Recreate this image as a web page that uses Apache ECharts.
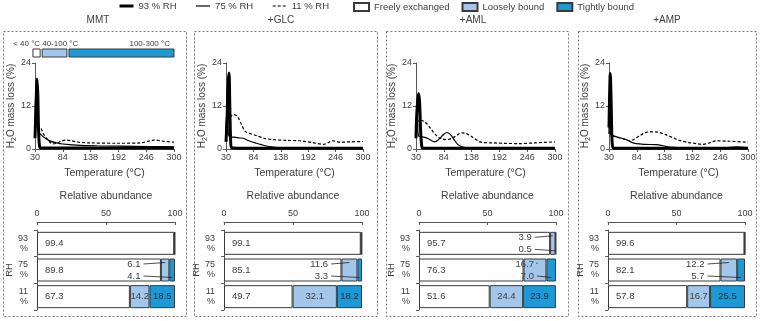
<!DOCTYPE html>
<html>
<head>
<meta charset="utf-8">
<script src="https://cdn.jsdelivr.net/npm/echarts@6/dist/echarts.min.js"></script>
<style>html,body{margin:0;padding:0;background:#fff}#c{width:760px;height:321px}</style>
</head>
<body>
<div id="c"></div>
<script>
// water loss curves, [temperature °C, H2O mass loss %]
var mmt93 = [[30,3],[32,12],[34,19.5],[35.5,15],[37,5],[39,0.6],[42,0.3],[100,0.3],[200,0.3],[300,0.3]];
var mmt75 = [[30,4],[31,16],[32.5,10],[35,5.5],[40,4.2],[50,3],[60,2.2],[72,1.7],[84,1.4],[110,1.1],[150,0.9],[200,0.8],[250,0.7],[300,0.6]];
var mmt11 = [[34,5.5],[40,6],[46,4.3],[55,2.6],[64,1.4],[72,1.6],[80,2.1],[90,2.5],[100,2.3],[115,1.9],[138,1.7],[192,1.6],[235,1.7],[250,2.2],[262,2.5],[278,2.2],[300,1.9]];

var glc93 = [[30,2],[32,8],[34,18],[36,21.2],[37.5,12],[39,3],[41,0.4],[60,0.2],[300,0.2]];
var glc75 = [[30,5],[32,12],[34,6],[36,3.6],[45,3.3],[55,3.1],[64,3],[75,2.3],[90,1.6],[100,1.2],[115,0.7],[137,0.3],[160,0.2],[300,0.2]];
var glc11 = [[30,4],[31.5,8.7],[38,9],[45,9.6],[52,9.2],[60,7],[68,4.9],[80,4.2],[91,3.7],[105,3],[124,2.6],[150,2.4],[176,2.3],[200,1.8],[222,1.3],[232,1.8],[240,2.3],[256,1.9],[275,2],[300,2.1]];

var aml93 = [[30,3],[31,8],[33,13],[35,15.5],[37,13],[39,5],[41,1],[43,0.3],[300,0.2]];
var aml75 = [[30,3],[31.5,13],[33,8],[35,3.6],[45,3.3],[55,2.8],[66,2],[75,2.8],[83,4],[90,4.6],[97,4],[104,2.6],[111,1.3],[120,0.6],[130,0.3],[300,0.2]];
var aml11 = [[33,6],[35,8.1],[46,7.7],[56,6.2],[65,4.5],[74,3.2],[82,2.8],[90,2.6],[100,3],[110,3.9],[119,4.5],[128,4.3],[140,3.3],[156,1.9],[180,1.7],[200,1.6],[230,1.5],[260,1.7],[300,2]];

var amp93 = [[30,6],[31,14],[32.5,21.1],[34,14],[35.5,4],[37,0.6],[40,0.2],[300,0.2]];
var amp75 = [[30,4.2],[30.8,16],[32,9],[34,4],[45,3.4],[60,2.8],[72,2],[83,1.5],[100,1.3],[122,1.2],[135,0.9],[148,0.5],[180,0.3],[250,0.3],[277,0.6],[300,0.4]];
var amp11 = [[30,4.6],[35,4],[45,3.3],[58,2.8],[70,2.3],[80,2.8],[90,3.8],[100,4.5],[109,4.8],[120,4.8],[128,4.6],[140,4],[155,3.1],[167,2.4],[185,1.8],[200,1.5],[212,1.3],[225,1.7],[238,2.3],[260,2.2],[300,1.9]];

var panels = ['MMT', '+GLC', '+AML', '+AMP'];
var curves93 = [mmt93, glc93, aml93, amp93];
var curves75 = [mmt75, glc75, aml75, amp75];
var curves11 = [mmt11, glc11, aml11, amp11];
var rhNames = ['93 % RH', '75 % RH', '11 % RH'];

// relative abundance, rows: 93 %, 75 %, 11 % RH
var rhCats = ['93\n%', '75\n%', '11\n%'];
var freeVals  = [[99.4, 89.8, 67.3], [99.1, 85.1, 49.7], [95.7, 76.3, 51.6], [99.6, 82.1, 57.8]];
var looseVals = [[0.3, 6.1, 14.2],   [0.5, 11.6, 32.1],  [3.9, 16.7, 24.4],  [0.2, 12.2, 16.7]];
var tightVals = [[0.3, 4.1, 18.5],   [0.4, 3.3, 18.2],   [0.5, 7.0, 23.9],   [0.2, 5.7, 25.5]];
var inBarRows = [false, false, true];

// callouts: [text end (%), row, pointed segment (%), -1 upper / 1 lower]
var calloutPts = [
  [[75, 1, 92.9, -1], [75, 1, 98, 1]],
  [[75.4, 1, 90.9, -1], [75.4, 1, 98.3, 1]],
  [[82.3, 0, 97.6, -1], [82.3, 0, 99.8, 1], [84, 1, 86, -1], [84, 1, 96.5, 1]],
  [[70.4, 1, 88.2, -1], [70.4, 1, 97.1, 1]]
];
var calloutText = [['6.1', '4.1'], ['11.6', '3.3'], ['3.9', '0.5', '16.7', '7.0'], ['12.2', '5.7']];

// temperature ranges key (MMT panel)
var rangeBands = [[26, 40], [44, 92], [96, 300]];
var rangeNames = ['< 40 °C', '40-100 °C', '100-300 °C'];

var FONT = '"Liberation Sans", Arial, sans-serif';
var INK = '#404040';
var AX = '#595959';
var EDGE = '#3a3a3a';
var C_FREE = '#ffffff', C_LOOSE = '#a3c7ea', C_TIGHT = '#1d9ad6';

var lineLeft = [35, 226, 416, 609], lineW = [139, 137, 139, 139];
var barLeft = [37, 224, 419, 608], barW = [138, 138, 137, 137];
var boxes = [[3, 186], [194, 377], [386, 568], [578, 756]];
var titleX = [98, 281, 473, 667];

var lineStyles = [
  { color: '#000', width: 3 },
  { color: '#000', width: 1.2 },
  { color: '#000', width: 1.2, type: [3, 2] }
];

var opt = {
  animation: false,
  textStyle: { fontFamily: FONT },
  grid: [], xAxis: [], yAxis: [], series: [],
  legend: [{
    data: rhNames.map(function (n, k) { return { name: n, lineStyle: lineStyles[k] }; }),
    left: 118, top: 1, padding: 0, itemWidth: 14, itemHeight: 10, itemGap: 19,
    itemStyle: { opacity: 0 },
    textStyle: { fontSize: 9.5, color: INK, fontFamily: FONT }
  }, {
    data: ['Freely exchanged', 'Loosely bound', 'Tightly bound'], left: 353, top: 2, padding: 0,
    icon: 'rect', itemWidth: 15, itemHeight: 8, itemGap: 12,
    textStyle: { fontSize: 9.5, color: INK, fontFamily: FONT }
  }],
  graphic: []
};

function axisCommon() {
  return {
    axisLine: { show: true, onZero: false, lineStyle: { color: AX, width: 1 } },
    axisTick: { show: true, length: 3, lineStyle: { color: AX } },
    axisLabel: { fontSize: 9, color: INK, margin: 4, fontFamily: FONT },
    splitLine: { show: false },
    nameTextStyle: { fontSize: 10.5, color: INK, fontFamily: FONT }
  };
}

panels.forEach(function (name, p) {
  opt.grid.push({ left: lineLeft[p], top: 63, width: lineW[p], height: 86 });
});
panels.forEach(function (name, p) {
  opt.grid.push({ left: barLeft[p], top: 230, width: barW[p], height: 80 });
});
opt.grid.push({ left: 35, top: 49, width: 139, height: 8 });

panels.forEach(function (name, p) {
  opt.xAxis.push(Object.assign(axisCommon(), {
    gridIndex: p, type: 'value', min: 30, max: 300, interval: 54,
    name: 'Temperature (°C)', nameLocation: 'middle', nameGap: 19
  }));
  var ya = Object.assign(axisCommon(), {
    gridIndex: p, type: 'value', min: 0, max: 24, interval: 12,
    name: '{a|H}{b|2}{a|O mass loss (%)}', nameLocation: 'middle', nameGap: 17, nameRotate: 90
  });
  ya.nameTextStyle = { color: INK, rich: {
    a: { fontSize: 10, color: INK, fontFamily: FONT },
    b: { fontSize: 7, color: INK, fontFamily: FONT, padding: [5, 0, 0, 0] }
  } };
  opt.yAxis.push(ya);
});
panels.forEach(function (name, p) {
  var xa = Object.assign(axisCommon(), {
    gridIndex: 4 + p, type: 'value', position: 'top', offset: 8,
    min: 0, max: 100, interval: 50,
    name: 'Relative abundance', nameLocation: 'middle', nameGap: 20
  });
  xa.axisTick = { show: true, inside: true, length: 3, lineStyle: { color: AX } };
  opt.xAxis.push(xa);
  var yb = Object.assign(axisCommon(), {
    gridIndex: 4 + p, type: 'category', data: rhCats, inverse: true,
    name: 'RH', nameLocation: 'middle', nameRotate: 90, nameGap: 19
  });
  yb.axisLabel = { fontSize: 9, color: INK, margin: 9, lineHeight: 10, fontFamily: FONT };
  yb.nameTextStyle = { fontSize: 9.5, color: INK, fontFamily: FONT };
  opt.yAxis.push(yb);
});
opt.xAxis.push({ gridIndex: 8, type: 'value', min: 30, max: 300, show: false });
opt.yAxis.push({ gridIndex: 8, type: 'value', min: 0, max: 1, show: false });

// TG curves
panels.forEach(function (name, p) {
  [curves93[p], curves75[p], curves11[p]].forEach(function (d, k) {
    opt.series.push({
      type: 'line', name: rhNames[k], xAxisIndex: p, yAxisIndex: p,
      data: d, symbol: 'none', showSymbol: false, smooth: 0.3,
      itemStyle: { color: '#000' }, lineStyle: lineStyles[k], z: 3 - k
    });
  });
});

// stacked abundance bars
var segs = [
  { name: 'Freely exchanged', vals: freeVals, color: C_FREE },
  { name: 'Loosely bound', vals: looseVals, color: C_LOOSE },
  { name: 'Tightly bound', vals: tightVals, color: C_TIGHT }
];
panels.forEach(function (name, p) {
  segs.forEach(function (s, k) {
    opt.series.push({
      type: 'bar', name: s.name, stack: 'ab' + p, xAxisIndex: 4 + p, yAxisIndex: 4 + p,
      barWidth: 23,
      itemStyle: { color: s.color, borderColor: EDGE, borderWidth: 1 },
      data: s.vals[p].map(function (v, r) {
        var show = k === 0 || inBarRows[r];
        return {
          value: v,
          label: {
            show: show, position: k === 0 ? 'insideLeft' : 'inside', distance: 8,
            fontSize: 9.5, fontFamily: FONT, color: k === 2 ? '#1b2f45' : INK,
            formatter: function (q) { return q.value.toFixed(1); }
          }
        };
      })
    });
  });
  opt.series.push({
    type: 'custom', xAxisIndex: 4 + p, yAxisIndex: 4 + p, z: 5, silent: true,
    encode: { x: [0, 2], y: 1 },
    data: calloutPts[p],
    renderItem: function (params, api) {
      var a = api.coord([api.value(0), api.value(1)]);
      var t = api.coord([api.value(2), api.value(1)]);
      var side = api.value(3);
      var y = a[1] + side * 6;
      return { type: 'group', children: [
        { type: 'text', style: { text: calloutText[p][params.dataIndex], x: a[0], y: y,
          align: 'right', verticalAlign: 'middle', fontSize: 9.5, fontFamily: FONT, fill: INK } },
        { type: 'line', shape: { x1: a[0] + 3, y1: y, x2: t[0], y2: y + side * 1.5 },
          style: { stroke: '#222', lineWidth: 0.8 } }
      ] };
    }
  });
});

// temperature range key above MMT curves
var rangeFill = [C_FREE, C_LOOSE, C_TIGHT];
var rangeAlign = ['right', 'left', 'right'];
opt.series.push({
  type: 'custom', xAxisIndex: 8, yAxisIndex: 8, silent: true,
  encode: { x: [0, 1] },
  data: rangeBands,
  renderItem: function (params, api) {
    var i = params.dataIndex;
    var a = api.coord([api.value(0), 1]);
    var b = api.coord([api.value(1), 0]);
    var tx = rangeAlign[i] === 'left' ? a[0] : b[0] - (i === 2 ? 4 : 0);
    return { type: 'group', children: [
      { type: 'rect', shape: { x: a[0], y: a[1], width: b[0] - a[0], height: b[1] - a[1] },
        style: { fill: rangeFill[i], stroke: EDGE, lineWidth: 1 } },
      { type: 'text', style: { text: rangeNames[i], x: tx, y: a[1] - 1,
        align: rangeAlign[i], verticalAlign: 'bottom', fontSize: 8, fontFamily: FONT, fill: INK } }
    ] };
  }
});

// dashed panel frames and panel titles
boxes.forEach(function (b, p) {
  opt.graphic.push({
    type: 'rect', silent: true, z: -1,
    shape: { x: b[0] + 0.5, y: 31.5, width: b[1] - b[0], height: 285 },
    style: { fill: 'none', stroke: '#7a7a7a', lineWidth: 1, lineDash: [2, 2] }
  });
  opt.graphic.push({
    type: 'text', silent: true, x: titleX[p], y: 20,
    style: { text: panels[p], align: 'center', verticalAlign: 'middle',
      fontSize: 10, fontFamily: FONT, fill: INK }
  });
});

echarts.init(document.getElementById('c')).setOption(opt);
</script>
</body>
</html>
